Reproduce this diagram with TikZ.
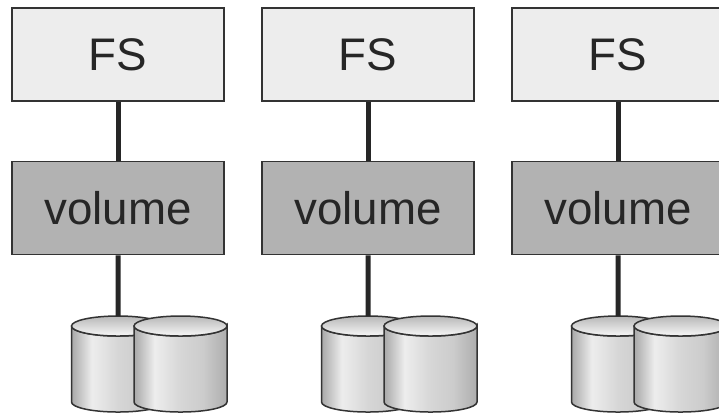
\documentclass[tikz,border=0pt]{standalone}
\usepackage{fontspec}
\setmainfont{Liberation Sans}
\pgfdeclarehorizontalshading{diskbody}{100bp}{
	color(0bp)=(black!34); color(25bp)=(black!34); color(36bp)=(black!7);
	color(50bp)=(black!16); color(62bp)=(black!20); color(75bp)=(black!32); color(100bp)=(black!32)}
\tikzset{
	layer/.style={draw=black!80, line width=0.15mm, minimum width=2.12cm, minimum height=0.93cm,
		inner sep=0pt, text=black!85, font=\fontsize{13}{15}\selectfont},
	fsbox/.style={layer, fill=black!7},
	volbox/.style={layer, fill=black!30},
	link/.style={line width=0.5mm, black!85},
	diskline/.style={draw=black!80, line width=0.15mm},
	disk/.pic={
		\coordinate (-top) at (46.5,-10);
		\path[diskline, shading=diskbody] (0,0) -- (0,76) arc[start angle=180, end angle=0, x radius=46.5, y radius=10] -- (93,0)
			arc[start angle=0, end angle=180, x radius=46.5, y radius=10] -- cycle;
		\path[diskline, top color=black!28, bottom color=black!3] (46.5,0) ellipse[x radius=46.5, y radius=10];
	}
}
\begin{document}
\begin{tikzpicture}[x=0.1mm, y=-0.1mm]
		
		\clip (0,0) rectangle (719,414);
		\fill[white] (0,0) rectangle (719,414);
		
		% Columns: number / x-coordinate of the centre
		\foreach \c/\x in {1/118, 2/368, 3/618} {
			\node[fsbox]  (fs\c)  at (\x,54.5)  {FS};
			\node[volbox] (vol\c) at (\x,208) {volume};
			\pic (back\c)  at (\x-46.5,326) {disk};
			\pic (front\c) at (\x+16,326)   {disk};
			\draw[link] (fs\c) -- (vol\c);
			\draw[link] (vol\c) -- (back\c-top);
		}
		
	\end{tikzpicture}
\end{document}
